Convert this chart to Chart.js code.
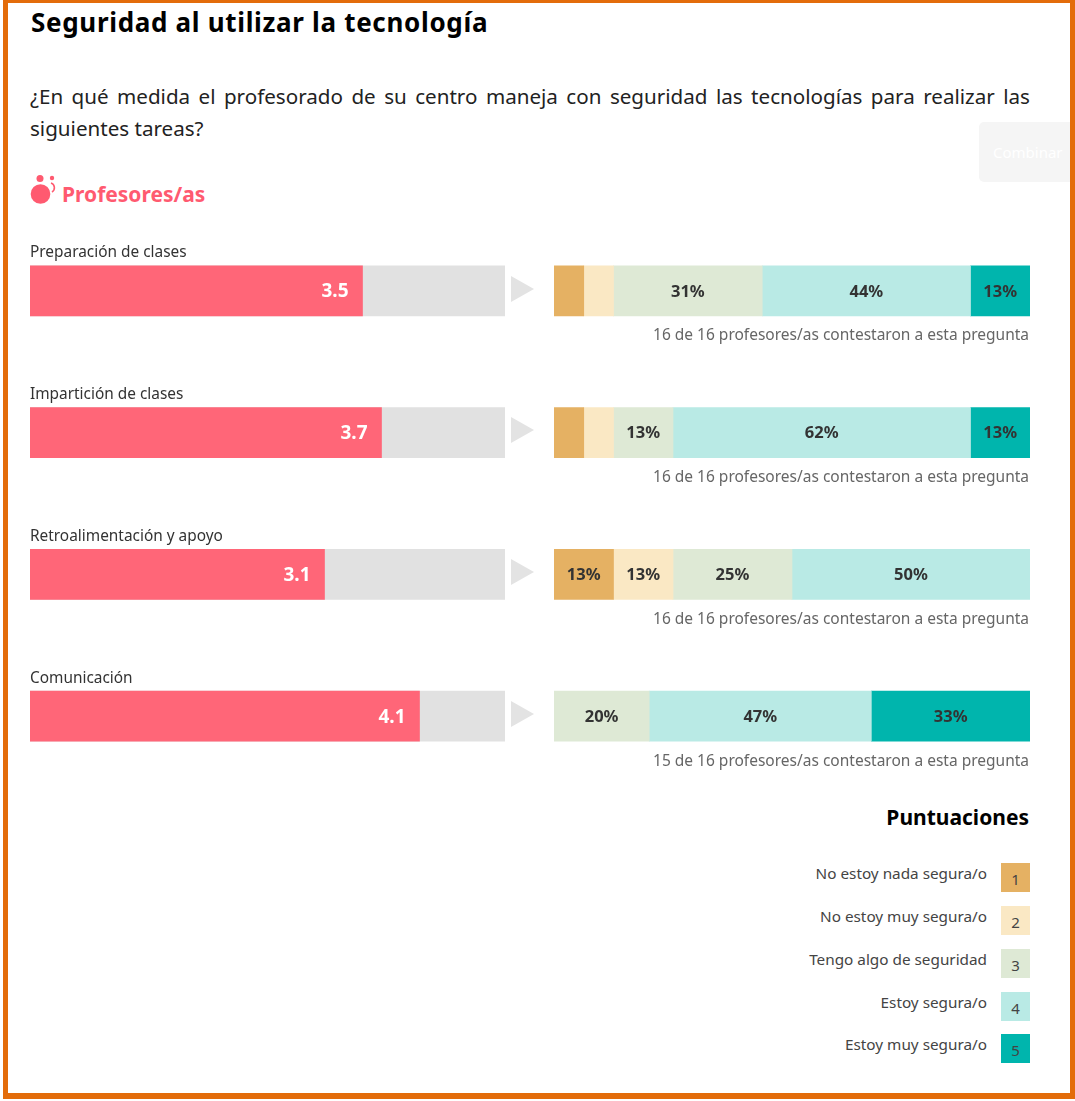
<!DOCTYPE html>
<html lang="es">
<head>
<meta charset="utf-8">
<title>Seguridad al utilizar la tecnología</title>
<script src="https://cdn.jsdelivr.net/npm/chart.js@4"></script>
<style>
    html, body { margin: 0; padding: 0; background: #fff; }
    body { width: 1075px; height: 1101px; position: relative; overflow: hidden; font-family: "Noto Sans", sans-serif; }
    #marco { position: absolute; left: 3px; top: 0; width: 1062px; height: 1090px; border: solid #e36c0a; border-width: 3px 5px 6px 5px; }
    #titulo { position: absolute; left: 31px; top: 4px; margin: 0; font-size: 26px; line-height: 36px; font-weight: 700; letter-spacing: 0.68px; color: #000; white-space: nowrap; }
    #pregunta { position: absolute; left: 30px; top: 80px; width: 1000px; margin: 0; font-size: 20.6px; line-height: 32px; color: #222; text-align: justify; }
    #combinar { position: absolute; left: 979px; top: 122px; width: 91px; height: 60px; background: #f5f5f5; border-radius: 5px 0 0 5px; color: #fff; font-size: 15px; line-height: 60px; padding-left: 14px; box-sizing: border-box; white-space: nowrap; overflow: hidden; }
    #icono { position: absolute; left: 30px; top: 174px; }
    #grupo { position: absolute; left: 62px; top: 180px; font-size: 21px; line-height: 28px; font-weight: 700; color: #ff5a70; }
    #graficoPuntuacion { position: absolute; left: 30px; top: 220px; }
    #graficoReparto { position: absolute; left: 554px; top: 220px; }
    .flecha { position: absolute; left: 511px; width: 0; height: 0; border-style: solid; border-width: 13px 0 13px 23px; border-color: transparent transparent transparent #e3e3e3; }
    #leyendaTitulo { position: absolute; right: 46px; top: 802px; font-size: 21px; line-height: 30px; font-weight: 700; color: #000; }
    .etiqueta { position: absolute; right: 88px; font-size: 15.3px; line-height: 20px; color: #444; white-space: nowrap; }
    .caja { position: absolute; left: 1001px; width: 29px; height: 29px; font-size: 15px; line-height: 32px; text-align: center; color: #444; }
</style>
</head>
<body>
<div id="marco"></div>
<h1 id="titulo">Seguridad al utilizar la tecnología</h1>
<p id="pregunta">¿En qué medida el profesorado de su centro maneja con seguridad las tecnologías para realizar las siguientes tareas?</p>
<div id="combinar">Combinar</div>
<svg id="icono" width="30" height="32" viewBox="0 0 30 32">
    <circle cx="10.5" cy="20" r="9.8" fill="#ff5a70"/>
    <circle cx="10" cy="4.5" r="3.5" fill="#ff5a70"/>
    <circle cx="22" cy="4" r="2.2" fill="#ff5a70"/>
    <path d="M21 9 a5 5 0 0 1 1 9" fill="none" stroke="#ff5a70" stroke-width="1.6"/>
</svg>
<div id="grupo">Profesores/as</div>
<canvas id="graficoPuntuacion" width="475" height="567"></canvas>
<canvas id="graficoReparto" width="476" height="567"></canvas>
<div id="leyendaTitulo">Puntuaciones</div>
<div id="leyenda"></div>

<script>
const categorias = ["Preparación de clases", "Impartición de clases", "Retroalimentación y apoyo", "Comunicación"]
const puntuaciones = [3.5, 3.7, 3.1, 4.1]
const puntuacionMaxima = [5, 5, 5, 5]

// null donde nadie eligio ese nivel, asi no se pinta un tramo vacio
const nivel1 = [6.25, 6.25, 12.5, null]
const nivel2 = [6.25, 6.25, 12.5, null]
const nivel3 = [31.25, 12.5, 25, 20]
const nivel4 = [43.75, 62.5, 50, 46.67]
const nivel5 = [12.5, 12.5, null, 33.33]

const textoNivel1 = ["", "", "13%", ""]
const textoNivel2 = ["", "", "13%", ""]
const textoNivel3 = ["31%", "13%", "25%", "20%"]
const textoNivel4 = ["44%", "62%", "50%", "47%"]
const textoNivel5 = ["13%", "13%", "", "33%"]

const contestaron = [16, 16, 16, 15]
const totalProfesores = 16

const nombresNivel = ["No estoy nada segura/o", "No estoy muy segura/o", "Tengo algo de seguridad", "Estoy segura/o", "Estoy muy segura/o"]
const coloresNivel = ["#e5b163", "#fae8c4", "#dee9d5", "#b9eae5", "#00b5ad"]
const topLeyenda = [863, 906, 949, 992, 1034]

const fuente = '"Noto Sans", sans-serif'
Chart.defaults.font.family = fuente
Chart.defaults.animation = false

// flechas grises entre las dos barras
const topFlecha = [276, 417, 559, 701]
topFlecha.forEach(top => {
    const flecha = document.createElement('div')
    flecha.className = 'flecha'
    flecha.style.top = top + 'px'
    document.body.appendChild(flecha)
})

// leyenda de puntuaciones
const leyenda = document.querySelector('#leyenda')
nombresNivel.forEach((nombre, i) => {
    const etiqueta = document.createElement('div')
    etiqueta.className = 'etiqueta'
    etiqueta.style.top = topLeyenda[i] + 'px'
    etiqueta.innerText = nombre
    leyenda.appendChild(etiqueta)

    const caja = document.createElement('div')
    caja.className = 'caja'
    caja.style.top = topLeyenda[i] + 'px'
    caja.style.background = coloresNivel[i]
    caja.innerText = i + 1
    leyenda.appendChild(caja)
})

const ejesOcultos = (max, apilado) => ({
    x: { display: false, min: 0, max: max, stacked: apilado },
    y: { display: false, stacked: apilado }
})

// nombre de la categoria encima de cada barra y valor de la puntuacion
const textosPuntuacion = {
    id: 'textosPuntuacion',
    afterDatasetsDraw(chart) {
        const ctx = chart.ctx
        const barras = chart.getDatasetMeta(0).data
        ctx.save()
        ctx.textBaseline = 'middle'
        barras.forEach((barra, i) => {
            ctx.font = `700 19px ${fuente}`
            ctx.fillStyle = '#fff'
            ctx.textAlign = 'right'
            ctx.fillText(puntuaciones[i].toFixed(1), barra.x - 14, barra.y + 1)

            ctx.font = `15.4px ${fuente}`
            ctx.fillStyle = '#333'
            ctx.textAlign = 'left'
            ctx.fillText(categorias[i], 0, barra.y - 38)
        })
        ctx.restore()
    }
}

// porcentajes dentro de cada tramo y nota de respuestas debajo
const textosReparto = {
    id: 'textosReparto',
    afterDatasetsDraw(chart) {
        const ctx = chart.ctx
        ctx.save()
        ctx.textBaseline = 'middle'
        ctx.textAlign = 'center'
        ctx.font = `700 16.5px ${fuente}`
        ctx.fillStyle = '#333'
        chart.data.datasets.forEach((dataset, d) => {
            chart.getDatasetMeta(d).data.forEach((barra, i) => {
                if (!dataset.textos[i]) return
                const centro = barra.getCenterPoint()
                ctx.fillText(dataset.textos[i], centro.x, centro.y + 1)
            })
        })
        ctx.font = `15.5px ${fuente}`
        ctx.fillStyle = '#666'
        ctx.textAlign = 'right'
        chart.getDatasetMeta(2).data.forEach((barra, i) => {
            ctx.fillText(`${contestaron[i]} de ${totalProfesores} profesores/as contestaron a esta pregunta`, chart.width - 1, barra.y + 45)
        })
        ctx.restore()
    }
}

let graficoPuntuacion = new Chart(
    document.getElementById("graficoPuntuacion"),
    {
        type: "bar",
        data: {
            labels: categorias,
            datasets: [
                { data: puntuaciones, backgroundColor: "#ff6678", barThickness: 50, order: 1 },
                { data: puntuacionMaxima, backgroundColor: "#e1e1e1", barThickness: 50, order: 2 },
            ]
        },
        options: {
            indexAxis: "y",
            responsive: false,
            datasets: { bar: { grouped: false } },
            scales: ejesOcultos(5, false),
            plugins: { legend: { display: false }, tooltip: { enabled: false } }
        },
        plugins: [textosPuntuacion]
    }
)

const nivelesReparto = [nivel1, nivel2, nivel3, nivel4, nivel5]
const textosNiveles = [textoNivel1, textoNivel2, textoNivel3, textoNivel4, textoNivel5]

let graficoReparto = new Chart(
    document.getElementById("graficoReparto"),
    {
        type: "bar",
        data: {
            labels: categorias,
            datasets: nivelesReparto.map((nivel, i) => ({
                label: nombresNivel[i],
                data: nivel,
                textos: textosNiveles[i],
                backgroundColor: coloresNivel[i],
                barThickness: 50
            }))
        },
        options: {
            indexAxis: "y",
            responsive: false,
            scales: ejesOcultos(100, true),
            plugins: { legend: { display: false }, tooltip: { enabled: false } }
        },
        plugins: [textosReparto]
    }
)
</script>
</body>
</html>
